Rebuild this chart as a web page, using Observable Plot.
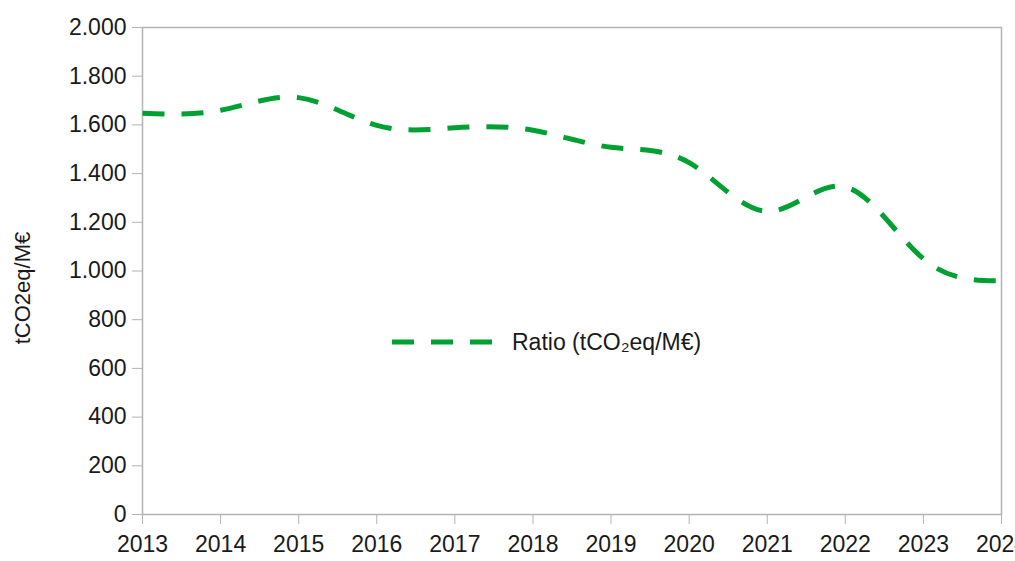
<!DOCTYPE html>
<html>
<head>
<meta charset="utf-8">
<script src="https://cdn.jsdelivr.net/npm/d3@7"></script>
<script src="https://cdn.jsdelivr.net/npm/@observablehq/plot@0.6"></script>
<style>
  html, body { margin: 0; padding: 0; background: #fff; overflow: hidden; width: 1015px; height: 561px; }
  #wrap { position: relative; width: 1015px; height: 561px; font-family: "Liberation Sans", Arial, sans-serif; }
  #legend { position: absolute; left: 392px; top: 327px; height: 30px; display: flex; align-items: center; font-size: 23px; color: #1a1a1a; white-space: nowrap; }
  #legend svg { margin-right: 19px; }
</style>
</head>
<body>
<div id="wrap"></div>
<script>
const years = [2013, 2014, 2015, 2016, 2017, 2018, 2019, 2020, 2021, 2022, 2023, 2024];
const ratio = [1648, 1660, 1712, 1598, 1588, 1578, 1508, 1445, 1245, 1345, 1050, 960];
const yTicks = [0, 200, 400, 600, 800, 1000, 1200, 1400, 1600, 1800, 2000];
const xTicks = years;
const seriesName = "Ratio (tCO₂eq/M€)";
const yTitle = "tCO2eq/M€";
const lineColor = "#00A033";
const axisGray = "#b3b3b3";

const data = years.map((y, i) => ({year: y, value: ratio[i]}));
const fmtY = d => d3.format(",")(d).replace(/,/g, ".");

const chart = Plot.plot({
  width: 1015,
  height: 561,
  marginLeft: 142,
  marginRight: 14,
  marginTop: 27,
  marginBottom: 47,
  style: {fontFamily: '"Liberation Sans", Arial, sans-serif', fontSize: "23px", color: "#1a1a1a", background: "white", overflow: "visible"},
  x: {domain: [2013, 2024]},
  y: {domain: [0, 2000]},
  marks: [
    Plot.axisX({ticks: xTicks, tickFormat: d => String(d), tickSize: 10, tickPadding: 11, stroke: axisGray, label: null}),
    Plot.axisY({ticks: yTicks, tickFormat: fmtY, tickSize: 10, tickPadding: 6, stroke: axisGray, label: null}),
    Plot.frame({stroke: axisGray, strokeWidth: 1.5}),
    Plot.line(data, {x: "year", y: "value", curve: "natural", stroke: lineColor, strokeWidth: 5, strokeDasharray: "22,17", strokeLinecap: "butt"}),
    Plot.text([yTitle], {frameAnchor: "left", textAnchor: "middle", dx: -120, dy: 17, rotate: -90, fontSize: 22, fill: "#1a1a1a"})
  ]
});

const wrap = document.getElementById("wrap");
wrap.appendChild(chart);

const legend = document.createElement("div");
legend.id = "legend";
legend.innerHTML = `<svg width="101" height="10"><line x1="0" y1="5" x2="101" y2="5" stroke="${lineColor}" stroke-width="5" stroke-dasharray="22,17"></line></svg><span></span>`;
legend.querySelector("span").textContent = seriesName;
wrap.appendChild(legend);
</script>
</body>
</html>
